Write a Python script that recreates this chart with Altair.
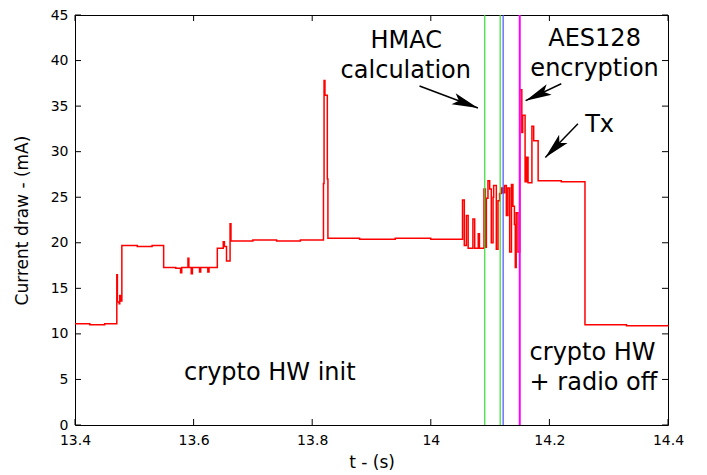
import math
import altair as alt
import pandas as pd

# ---- current trace (step samples) ----
t_vals = [
    13.400, 13.425, 13.450,
    13.4705, 13.4715, 13.4745, 13.4755, 13.4775,
    13.4790, 13.505, 13.530,
    13.5495, 13.570, 13.578, 13.580, 13.5905, 13.5920, 13.596, 13.598,
    13.610, 13.612, 13.624, 13.626,
    13.640, 13.650, 13.652, 13.6555, 13.6615, 13.6630,
    13.700, 13.740, 13.780,
    13.8190, 13.8200, 13.8215, 13.8255, 13.8265,
    13.880, 13.940, 14.000,
    14.0535, 14.0565, 14.0600, 14.0630, 14.0710, 14.0740, 14.0800, 14.0820,
    14.0897, 14.0920, 14.0937, 14.0964, 14.0993, 14.1020, 14.1050, 14.1060,
    14.1105, 14.1133, 14.1160, 14.1190, 14.1217, 14.1245, 14.1274, 14.1300,
    14.1330, 14.1360, 14.1385, 14.1410, 14.1425, 14.1440, 14.1470,
    14.1500, 14.1535, 14.1550, 14.1590, 14.1615, 14.1640, 14.1680, 14.1705, 14.1735,
    14.1810, 14.220,
    14.2600, 14.330, 14.400,
]
i_vals = [
    11.1, 11.0, 11.1,
    16.5, 13.5, 13.3, 14.2, 13.6,
    19.7, 19.6, 19.7,
    17.3, 17.2, 16.7, 17.3, 18.3, 17.3, 16.6, 17.3,
    16.8, 17.3, 16.8, 17.3,
    19.4, 20.1, 19.6, 18.0, 22.1, 20.2,
    20.3, 20.2, 20.3,
    26.5, 37.8, 36.2, 27.0, 20.5,
    20.4, 20.5, 20.4,
    24.7, 19.7, 23.0, 19.4, 22.6, 19.4, 21.0, 19.4,
    25.9, 19.5, 24.9, 26.8, 25.9, 20.0, 25.0, 26.3,
    19.3, 24.6, 25.4, 26.0, 25.5, 26.3, 23.0, 26.0,
    19.0, 26.4, 24.0, 22.0, 17.3, 23.3, 19.0,
    36.8, 32.1, 34.0, 26.7, 29.4, 26.6, 26.6, 32.8, 31.2,
    26.8, 26.7,
    11.0, 10.9, 11.0,
]

# ---- vertical marker lines ----
marker_t = [14.091, 14.117, 14.122, 14.150]
marker_color = ["#33dd33", "#33dd33", "#4d4dff", "#ff00ff"]
marker_width = [1.2, 1.2, 1.2, 2.0]

# ---- axis ticks ----
x_ticks = [13.4, 13.6, 13.8, 14.0, 14.2, 14.4]
y_ticks = [0, 5, 10, 15, 20, 25, 30, 35, 40, 45]

# ---- annotation texts ----
label_text = ["HMAC", "calculation", "AES128", "encryption", "Tx",
              "crypto HW init", "crypto HW", "+ radio off"]
label_t = [13.9586, 13.9578, 14.2762, 14.2762, 14.2846, 13.7286, 14.1666, 14.1666]
label_v = [42.2, 38.8, 42.4, 39.1, 32.9, 5.7, 7.9, 4.6]
label_align = ["center", "center", "center", "center", "center", "center", "left", "left"]

# ---- arrows (tail -> head) ----
arrow_tail_t = [13.981, 14.2200, 14.2481]
arrow_tail_v = [37.2, 37.45, 33.07]
arrow_head_t = [14.0795, 14.1599, 14.1931]
arrow_head_v = [34.8, 35.6, 29.35]

W, H = 593, 410
XD = [13.4, 14.4]
YD = [0, 45]
FONT = "DejaVu Sans"
XT = "t - (s)"
YT = "Current draw - (mA)"

trace = pd.DataFrame({"t": t_vals, "i": i_vals})
markers = pd.DataFrame({"t": marker_t, "c": marker_color, "w": marker_width})
labels = pd.DataFrame({"txt": label_text, "t": label_t, "v": label_v, "al": label_align})

ppx = W / (XD[1] - XD[0])
ppy = H / (YD[1] - YD[0])
angles = []
for a, b, c, d in zip(arrow_tail_t, arrow_tail_v, arrow_head_t, arrow_head_v):
    dx = (c - a) * ppx
    dy = -(d - b) * ppy
    angles.append(math.degrees(math.atan2(dx, -dy)) % 360)
arrows = pd.DataFrame({"t0": arrow_tail_t, "v0": arrow_tail_v,
                       "t1": arrow_head_t, "v1": arrow_head_v, "ang": angles})

xs = alt.Scale(domain=XD, nice=False, zero=False)
ys = alt.Scale(domain=YD, nice=False, zero=False)

line = alt.Chart(trace).mark_line(interpolate="step-after", color="#ff0000", strokeWidth=1.5).encode(
    x=alt.X("t:Q", scale=xs, title=XT, axis=alt.Axis(
        values=x_ticks, format="~g", labelPadding=8,
        titleX=W / 2, titleY=37, titleBaseline="middle")),
    y=alt.Y("i:Q", scale=ys, title=YT, axis=alt.Axis(
        values=y_ticks, labelPadding=7,
        titleX=-53, titleY=H / 2, titleBaseline="middle", titleAlign="center")),
)

rules = alt.Chart(markers).mark_rule().encode(
    x=alt.X("t:Q", scale=xs, title=XT),
    color=alt.Color("c:N", scale=None),
    strokeWidth=alt.StrokeWidth("w:Q", scale=None),
)

xt = pd.DataFrame({"t": x_ticks})
yt = pd.DataFrame({"v": y_ticks})
tick_b = alt.Chart(xt).mark_rule(color="black", strokeWidth=1).encode(
    x=alt.X("t:Q", scale=xs, title=XT), y=alt.value(H), y2=alt.value(H - 6))
tick_t = alt.Chart(xt).mark_rule(color="black", strokeWidth=1).encode(
    x=alt.X("t:Q", scale=xs, title=XT), y=alt.value(0), y2=alt.value(6))
tick_l = alt.Chart(yt).mark_rule(color="black", strokeWidth=1).encode(
    y=alt.Y("v:Q", scale=ys, title=YT), x=alt.value(0), x2=alt.value(6))
tick_r = alt.Chart(yt).mark_rule(color="black", strokeWidth=1).encode(
    y=alt.Y("v:Q", scale=ys, title=YT), x=alt.value(W - 6), x2=alt.value(W))

def text_layer(al):
    return alt.Chart(labels).transform_filter(alt.datum.al == al).mark_text(
        font=FONT, fontSize=24, color="black", align=al, baseline="middle").encode(
        x=alt.X("t:Q", scale=xs, title=XT),
        y=alt.Y("v:Q", scale=ys, title=YT),
        text="txt:N")

shafts = alt.Chart(arrows).mark_rule(color="black", strokeWidth=1.5).encode(
    x=alt.X("t0:Q", scale=xs, title=XT), y=alt.Y("v0:Q", scale=ys, title=YT),
    x2="t1:Q", y2="v1:Q")
heads = alt.Chart(arrows).mark_point(
    shape="M0,0L0.36,1.6L0,1.25L-0.36,1.6Z", filled=True, color="black",
    size=1056, strokeWidth=0, opacity=1).encode(
    x=alt.X("t1:Q", scale=xs, title=XT), y=alt.Y("v1:Q", scale=ys, title=YT),
    angle=alt.Angle("ang:Q", scale=None))

chart = alt.layer(
    line, rules, tick_b, tick_t, tick_l, tick_r,
    text_layer("center"), text_layer("left"), shafts, heads,
).properties(
    width=W, height=H,
    padding={"left": 67, "top": 7, "right": 25, "bottom": 50},
    autosize=alt.AutoSizeParams(type="none"),
).configure(
    font=FONT, background="white"
).configure_view(
    stroke="black", strokeWidth=1
).configure_axis(
    grid=False, ticks=False, tickSize=0, domain=False,
    labelFont=FONT, labelFontSize=14, labelColor="black", labelFlush=False,
    titleFont=FONT, titleFontSize=17, titleFontWeight="normal", titleColor="black",
)

chart.save("out.html", embed_options={"renderer": "svg", "actions": False})
